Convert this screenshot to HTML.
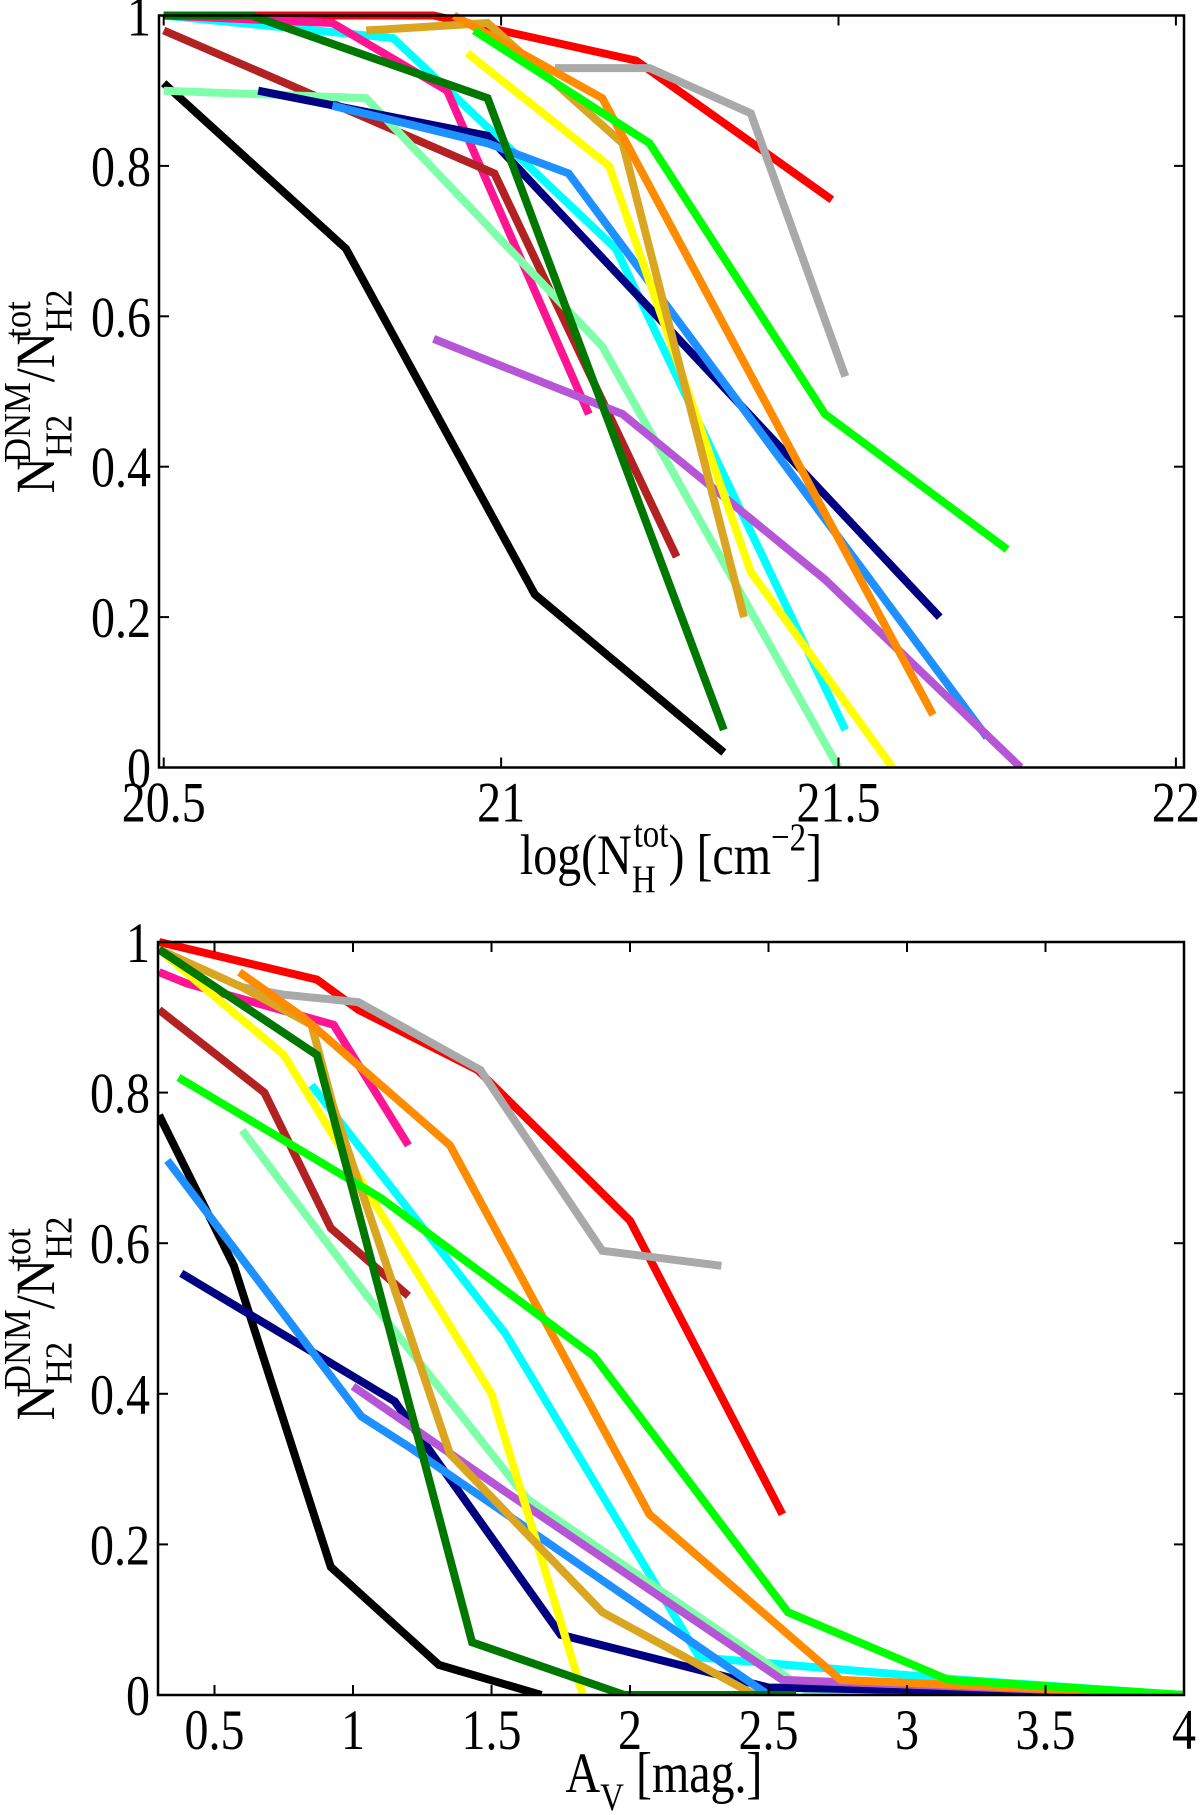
<!DOCTYPE html>
<html><head><meta charset="utf-8"><style>
body{margin:0;background:#fff;}
svg{display:block;font-family:"Liberation Serif",serif;}
</style></head><body>
<svg id="fig" width="1200" height="1815"></svg>
<script>
const topX=[20.5,21,21.5,22], topXL=["20.5","21","21.5","22"];
const botX=[0.5,1,1.5,2,2.5,3,3.5,4], botXL=["0.5","1","1.5","2","2.5","3","3.5","4"];
const yTicks=[0,0.2,0.4,0.6,0.8,1], yTL=["0","0.2","0.4","0.6","0.8","1"];
const colors=["#ff0000","#a9a9a9","#00ffff","#ff1493","#b22222","#000000","#7fffaa","#000080","#1e90ff","#b655d6","#ffff00","#daa520","#ff8c00","#00ff00","#007800"];
const topNames=["red","gray","cyan","pink","brown","black","aquamarine","navy","blue","purple","yellow","goldenrod","orange","lime","darkgreen"];
const topXs=[
[20.5,20.9,21.2,21.49],[21.08,21.22,21.37,21.51],[20.5,20.84,21.17,21.51],[20.5,20.75,20.92,21.13],
[20.5,20.99,21.26],[20.5,20.77,21.05,21.33],[20.5,20.8,21.15,21.5],[20.64,20.98,21.65],
[20.75,20.98,21.1,21.72],[20.9,21.18,21.48,21.77],[20.95,21.16,21.37,21.58],[20.8,20.98,21.18,21.36],
[20.93,21.15,21.64],[20.96,21.22,21.48,21.75],[20.5,20.63,20.98,21.33]];
const topYs=[
[1,1,0.94,0.755],[0.93,0.93,0.87,0.52],[1,0.97,0.69,0.05],[1,0.99,0.9,0.47],
[0.98,0.79,0.28],[0.91,0.69,0.23,0.02],[0.9,0.89,0.56,0],[0.9,0.84,0.2],
[0.88,0.83,0.79,0.04],[0.57,0.47,0.25,0],[0.95,0.8,0.26,0],[0.98,0.99,0.83,0.2],
[1,0.89,0.07],[0.98,0.83,0.47,0.29],[1,1,0.89,0.05]];
const botXs=[
[0.3,0.87,1.02,1.45,2.0,2.55],[0.6,0.75,1.02,1.46,1.9,2.33],[0.85,1.55,2.25,3.2,4],[0.3,0.4,0.93,1.2],
[0.3,0.68,0.92,1.2],[0.3,0.57,0.92,1.31,1.68],[0.6,1.05,1.63,2.66,4],[0.38,1.15,1.75,2.5,4],
[0.33,1.03,1.2,2.5],[1.0,1.55,2.55,4],[0.3,0.75,1.5,1.83],[0.3,0.6,0.85,0.93,1.35,1.9,2.45],
[0.59,0.82,1.35,2.07,2.76,4],[0.37,1.1,1.87,2.57,3.15,4],[0.3,0.87,1.43,1.98,2.6]];
const botYs=[
[1,0.95,0.91,0.83,0.63,0.24],[0.94,0.93,0.92,0.83,0.59,0.57],[0.81,0.48,0.05,0.02,0],[0.96,0.945,0.89,0.73],
[0.91,0.8,0.62,0.53],[0.77,0.57,0.17,0.04,0],[0.75,0.53,0.26,0,0],[0.56,0.39,0.08,0.01,0],
[0.71,0.37,0.33,0],[0.41,0.27,0.02,0],[0.99,0.85,0.4,0],[0.99,0.94,0.89,0.78,0.32,0.11,0],
[0.96,0.9,0.73,0.24,0.02,0],[0.82,0.66,0.45,0.11,0.02,0],[0.99,0.85,0.07,0,0]];
const NS="http://www.w3.org/2000/svg";
const svg=document.getElementById('fig');
function el(t,a,p){const e=document.createElementNS(NS,t);for(const k in a)e.setAttribute(k,a[k]);(p||svg).appendChild(e);return e;}
function txt(x,y,anchor,p){return el('text',{transform:'translate('+x+','+y+') scale(1,1.2)','font-size':48,'text-anchor':anchor},p);}
function panel(id,L,R,T,B,xmin,xmax,xt,xtl,xs,ys){
 const g=el('g',{});
 
 
 const sx=v=>L+(v-xmin)/(xmax-xmin)*(R-L), sy=v=>B-v*(B-T);
 const clip=el('clipPath',{id:id+'c'},g);el('rect',{x:L,y:T-5,width:R-L,height:B-T+5},clip);
 const lg=el('g',{'clip-path':'url(#'+id+'c)'},g);
 for(let i=0;i<xs.length;i++){
  const pts=xs[i].map((x,j)=>sx(x).toFixed(1)+','+sy(ys[i][j]).toFixed(1)).join(' ');
  const pl=el('polyline',{points:pts,fill:'none',stroke:colors[i],'stroke-width':8,'stroke-linejoin':'miter'},lg);
  
  
 }
 const fr=el('rect',{x:L,y:T,width:R-L,height:B-T,fill:'none',stroke:'#000','stroke-width':2.5},g);
 
 
 xt.forEach((v,i)=>{const x=sx(v);
  el('line',{x1:x,x2:x,y1:B,y2:B-10,stroke:'#000','stroke-width':2},g);
  el('line',{x1:x,x2:x,y1:T,y2:T+10,stroke:'#000','stroke-width':2},g);
  const t=txt(x,B+54,'middle',g);t.textContent=xtl[i];
  
  });
 yTicks.forEach((v,i)=>{const y=sy(v);
  el('line',{x1:L,x2:L+10,y1:y,y2:y,stroke:'#000','stroke-width':2},g);
  el('line',{x1:R,x2:R-10,y1:y,y2:y,stroke:'#000','stroke-width':2},g);
  const t=txt(L-8,y+20,'end',g);t.textContent=yTL[i];
  
  });
 const cy=(T+B)/2;
 const yl=el('text',{transform:'translate(54,'+cy+') rotate(-90) scale(1.05,1.15)','font-size':48,'text-anchor':'middle'},g);
 yl.innerHTML='N<tspan font-size="33" dy="15">H2</tspan><tspan font-size="33" dx="-46" dy="-36">DNM</tspan><tspan dy="21">/N</tspan><tspan font-size="33" dy="15">H2</tspan><tspan font-size="33" dx="-46" dy="-36">tot</tspan>';
 
 
}
panel('top-panel',159,1184,15.5,767.5,20.493,22.012,topX,topXL,topXs,topYs);
panel('bottom-panel',158,1184,942,1695,0.296,4,botX,botXL,botXs,botYs);
const xl1=txt(671,874,'middle');
xl1.innerHTML='log(N<tspan font-size="33" dy="15">H</tspan><tspan font-size="33" dx="-22" dy="-38">tot</tspan><tspan dy="23">) [cm</tspan><tspan font-size="33" dy="-20">−2</tspan><tspan dy="20">]</tspan>';


const xl2=txt(664,1792,'middle');
xl2.innerHTML='A<tspan font-size="33" dy="15">V</tspan><tspan dy="-15"> [mag.]</tspan>';


</script>
</body></html>
